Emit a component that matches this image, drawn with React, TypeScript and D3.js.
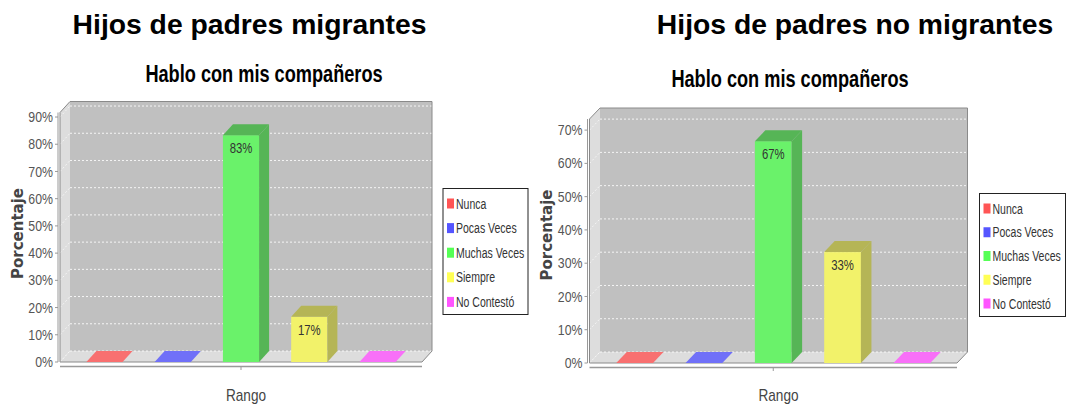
import React from "react";
import * as d3 from "d3";

const categories = ["Nunca", "Pocas Veces", "Muchas Veces", "Siempre", "No Contestó"];
const migrantes = [0, 0, 83.33, 16.67, 0];
const noMigrantes = [0, 0, 66.67, 33.33, 0];
const ticksLeft = [0, 10, 20, 30, 40, 50, 60, 70, 80, 90];
const ticksRight = [0, 10, 20, 30, 40, 50, 60, 70];
const baseColors = ["#ff5555", "#5555ff", "#55ff55", "#ffff55", "#ff55ff"];
const mainTitles = ["Hijos de padres migrantes", "Hijos de padres no migrantes"];
const subTitle = "Hablo con mis compañeros";
const xAxisLabel = "Rango";
const yAxisLabel = "Porcentaje";

const SANS = '"Liberation Sans", Arial, sans-serif';

type Cfg = {
  fl: number; fr: number; floor: number; top: number; dx: number; dy: number;
  titleX: number; titleY: number; subX: number; subY: number;
  porcX: number; porcY: number;
  legX: number; legY: number; legW: number; legH: number; legStep: number;
};

const cfgLeft: Cfg = {
  fl: 60, fr: 422, floor: 362, top: 112.5, dx: 10, dy: 11,
  titleX: 249.5, titleY: 34, subX: 264, subY: 82,
  porcX: 18, porcY: 233.5,
  legX: 443, legY: 188.5, legW: 85, legH: 126, legStep: 24.6,
};
const cfgRight: Cfg = {
  fl: 589.5, fr: 957, floor: 363, top: 119, dx: 10.5, dy: 11,
  titleX: 855, titleY: 34, subX: 790, subY: 87,
  porcX: 547, porcY: 235,
  legX: 979.5, legY: 193.5, legW: 86, legH: 123, legStep: 23.75,
};

function blend(c: string, bg: string, a: number) {
  return d3.interpolateRgb(bg, c)(a);
}
function darker(c: string) {
  const r = d3.rgb(c);
  return d3.rgb(Math.floor(r.r * 0.7), Math.floor(r.g * 0.7), Math.floor(r.b * 0.7)).toString();
}

function NText(props: {
  x: number; y: number; size: number; sx: number; anchor?: string; weight?: string; fill?: string; dy?: string; children: React.ReactNode;
}) {
  return (
    <text
      transform={`translate(${props.x},${props.y}) scale(${props.sx},1)`}
      dy={props.dy}
      textAnchor={props.anchor || "start"}
      fontFamily={SANS}
      fontWeight={props.weight || "normal"}
      fontSize={props.size}
      fill={props.fill || "#000"}
    >
      {props.children}
    </text>
  );
}

function Chart({ cfg, values, ticks, title }: { cfg: Cfg; values: number[]; ticks: number[]; title: string }) {
  const { fl, fr, floor, top, dx, dy } = cfg;
  const x = d3.scaleBand<string>().domain(categories).range([fl, fr]).paddingInner(0.47).paddingOuter(0.386);
  const y = d3.scaleLinear().domain([0, (d3.max(values) as number) * 1.1]).range([floor, top]);
  const bw = x.bandwidth();
  const outline = `M${fl},${floor}L${fl},${top}L${fl + dx},${top - dy}L${fr + dx},${top - dy}L${fr + dx},${floor - dy}L${fr},${floor}Z`;
  return (
    <g>
      <text x={cfg.titleX} y={cfg.titleY} textAnchor="middle" fontFamily={SANS} fontWeight="bold" fontSize={28.3} fill="#000">{title}</text>
      <NText x={cfg.subX} y={cfg.subY} size={23} sx={0.79} anchor="middle" weight="bold">{subTitle}</NText>
      {/* back panel */}
      <rect x={fl + dx} y={top - dy} width={fr - fl} height={floor - top} fill="#c0c0c0" />
      {/* left wall */}
      <polygon points={`${fl},${top} ${fl + dx},${top - dy} ${fl + dx},${floor - dy} ${fl},${floor}`} fill="#dddddd" />
      {/* floor */}
      <polygon points={`${fl},${floor} ${fl + dx},${floor - dy} ${fr + dx},${floor - dy} ${fr},${floor}`} fill="#dddddd" />
      {/* gridlines */}
      {ticks.map((t) => (
        <g key={t}>
          <line x1={fl + dx} x2={fr + dx} y1={y(t) - dy} y2={y(t) - dy} stroke="#ffffff" strokeWidth={1} strokeDasharray="2,2" opacity={0.85} />
          <line x1={fl} x2={fl + dx} y1={y(t)} y2={y(t) - dy} stroke="#ffffff" strokeWidth={1} strokeDasharray="2,2" opacity={0.7} />
        </g>
      ))}
      <path d={outline} fill="none" stroke="#8a8a8a" strokeWidth={1} />
      {/* bars */}
      {values.map((v, i) => {
        const c = categories[i];
        const x0 = x(c) as number;
        const yt = y(v);
        const yb = y(0);
        const front = blend(baseColors[i], "#c0c0c0", 0.8);
        const dark = blend(darker(baseColors[i]), "#c0c0c0", 0.8);
        const topFill = v > 0 ? dark : blend(baseColors[i], "#dddddd", 0.8);
        return (
          <g key={c}>
            {v > 0 && <rect x={x0} y={yt} width={bw} height={yb - yt} fill={front} />}
            {v > 0 && (
              <polygon points={`${x0 + bw},${yt} ${x0 + bw + dx},${yt - dy} ${x0 + bw + dx},${yb - dy} ${x0 + bw},${yb}`} fill={dark} />
            )}
            <polygon points={`${x0},${yt} ${x0 + dx},${yt - dy} ${x0 + bw + dx},${yt - dy} ${x0 + bw},${yt}`} fill={topFill} />
            {v > 0 && (
              <NText x={x0 + bw / 2} y={yt + 18} size={14} sx={0.81} anchor="middle" fill="#333">
                {Math.round(v)}%
              </NText>
            )}
          </g>
        );
      })}
      {/* y axis */}
      <line x1={fl - 2} x2={fl - 2} y1={top} y2={floor} stroke="#999" strokeWidth={1} />
      {ticks.map((t) => (
        <g key={"t" + t}>
          <line x1={fl - 5} x2={fl - 2} y1={y(t)} y2={y(t)} stroke="#999" strokeWidth={1} />
          <NText x={fl - 7} y={y(t)} dy="0.36em" size={14} sx={0.88} anchor="end" fill="#555">{t}%</NText>
        </g>
      ))}
      {/* x axis */}
      <line x1={fl} x2={fr} y1={floor + 4.5} y2={floor + 4.5} stroke="#999" strokeWidth={1.5} />
      <line x1={(fl + fr) / 2} x2={(fl + fr) / 2} y1={floor + 5} y2={floor + 8} stroke="#999" strokeWidth={1} />
      <NText x={(fl + fr + dx) / 2} y={401} size={16} sx={0.85} anchor="middle" fill="#444">{xAxisLabel}</NText>
      <text transform={`translate(${cfg.porcX + 5},${cfg.porcY}) rotate(-90)`} textAnchor="middle" fontFamily='"DejaVu Sans", sans-serif' fontWeight="bold" fontSize={15} fill="#444">{yAxisLabel}</text>
      {/* legend */}
      <rect x={cfg.legX} y={cfg.legY} width={cfg.legW} height={cfg.legH} fill="#fff" stroke="#222" strokeWidth={1} />
      {categories.map((c, i) => {
        const cy = cfg.legY + 15 + i * cfg.legStep;
        return (
          <g key={"l" + c}>
            <rect x={cfg.legX + 4} y={cy - 5} width={7} height={10} fill={baseColors[i]} />
            <NText x={cfg.legX + 13} y={cy} dy="0.36em" size={14} sx={0.75} fill="#333">{c}</NText>
          </g>
        );
      })}
    </g>
  );
}

export default function App() {
  return (
    <svg width={1078} height={407} style={{ position: "absolute", left: 0, top: 0, background: "#fff" }}>
      <rect width={1078} height={407} fill="#fff" />
      <Chart cfg={cfgLeft} values={migrantes} ticks={ticksLeft} title={mainTitles[0]} />
      <Chart cfg={cfgRight} values={noMigrantes} ticks={ticksRight} title={mainTitles[1]} />
    </svg>
  );
}
